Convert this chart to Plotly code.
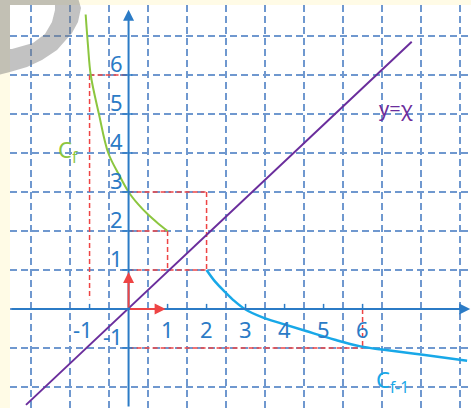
import plotly.graph_objects as go

# ---------------- data ----------------
green_x = [-1.10, -1.04, -0.97, -0.76, -0.52, -0.25, 0.0, 0.25, 0.5, 0.75, 1.0]
green_y = [7.55, 6.75, 6.0, 5.0, 4.0, 3.45, 3.0, 2.68, 2.42, 2.2, 2.0]

blue_x = [2.0, 2.22, 2.47, 2.72, 2.98, 3.42, 3.91, 4.53, 5.29, 5.95, 6.5, 7.5, 8.68]
blue_y = [1.0, 0.70, 0.44, 0.20, 0.0, -0.21, -0.37, -0.56, -0.79, -0.96, -1.04, -1.17, -1.33]

line_x = [-2.63, 7.26]
line_y = [-2.46, 6.85]

x_ticks = [-1, 1, 2, 3, 4, 5, 6]
x_tick_labels = ["-1", "1", "2", "3", "4", "5", "6"]
y_ticks = [-1, 1, 2, 3, 4, 5, 6]
y_tick_labels = ["-1", "1", "2", "3", "4", "5", "6"]

# red dashed projection segments (start point, end point)
red_x0 = [-1, -1, 0, 1, 0, 2, 0, 0, 6]
red_y0 = [6, 6, 2, 2, 1, 3, 3, -1, 0]
red_x1 = [0, -1, 1, 1, 2, 2, 2, 6, 6]
red_y1 = [6, 0.25, 2, 1, 1, 1, 3, -1, -1]

# unit vectors i, j
vec_x = [1, 0]
vec_y = [0, 1]

X_RANGE = [-3.04, 8.78]
Y_RANGE = [-2.54, 7.795]

AXIS_BLUE = "#2b7bc6"
GRID_BLUE = "#6f98cf"
RED = "#ee4444"
GREEN = "#8cc63f"
CYAN = "#18a8e8"
PURPLE = "#6a2d9c"
FONT = "Noto Sans"

fig = go.Figure()

# red dashed segments
rx, ry = [], []
for a, b, c, d in zip(red_x0, red_y0, red_x1, red_y1):
    rx += [a, c, None]
    ry += [b, d, None]
fig.add_trace(go.Scatter(x=rx, y=ry, mode="lines",
                         line=dict(color=RED, width=1.5, dash="5px,3px"),
                         hoverinfo="skip", showlegend=False))

# curves
fig.add_trace(go.Scatter(x=line_x, y=line_y, mode="lines",
                         line=dict(color=PURPLE, width=2), showlegend=False))
fig.add_trace(go.Scatter(x=green_x, y=green_y, mode="lines",
                         line=dict(color=GREEN, width=2, shape="spline", smoothing=1),
                         showlegend=False))
fig.add_trace(go.Scatter(x=blue_x, y=blue_y, mode="lines",
                         line=dict(color=CYAN, width=2.5, shape="spline", smoothing=1),
                         showlegend=False))

annotations = []
# axes with arrows
annotations.append(dict(x=8.76, y=0, ax=X_RANGE[0], ay=0, xref="x", yref="y",
                        axref="x", ayref="y", text="", showarrow=True,
                        arrowhead=2, arrowsize=1.1, arrowwidth=2, arrowcolor=AXIS_BLUE))
annotations.append(dict(x=0, y=7.67, ax=0, ay=Y_RANGE[0], xref="x", yref="y",
                        axref="x", ayref="y", text="", showarrow=True,
                        arrowhead=2, arrowsize=1.1, arrowwidth=2, arrowcolor=AXIS_BLUE))
# red unit vectors
for vx, vy in zip(vec_x, vec_y):
    annotations.append(dict(x=vx * 0.95, y=vy * 0.95, ax=0, ay=0, xref="x", yref="y",
                            axref="x", ayref="y", text="", showarrow=True,
                            arrowhead=2, arrowsize=1.1, arrowwidth=2, arrowcolor=RED))

# tick labels
for k, t in zip(x_ticks, x_tick_labels):
    annotations.append(dict(x=k - (0.17 if k < 0 else 0), y=-0.08, xref="x", yref="y",
                            text=t, showarrow=False, xanchor="center", yanchor="top",
                            font=dict(family=FONT, size=22, color=AXIS_BLUE)))
for k, t in zip(y_ticks, y_tick_labels):
    annotations.append(dict(x=-0.1, y=k - 0.14, xref="x", yref="y",
                            text=t, showarrow=False, xanchor="right", yanchor="bottom",
                            font=dict(family=FONT, size=22, color=AXIS_BLUE)))

# curve labels
annotations.append(dict(x=-1.85, y=4.05, xref="x", yref="y", text="C<sub>f</sub>",
                        showarrow=False, xanchor="left", yanchor="middle",
                        font=dict(family=FONT, size=22, color=GREEN)))
annotations.append(dict(x=6.3, y=-1.85, xref="x", yref="y", text="C<sub>f-1</sub>",
                        showarrow=False, xanchor="left", yanchor="middle",
                        font=dict(family=FONT, size=22, color=CYAN)))
annotations.append(dict(x=6.36, y=5.15, xref="x", yref="y", text="y=χ",
                        showarrow=False, xanchor="left", yanchor="middle",
                        font=dict(family=FONT, size=20, color=PURPLE)))

shapes = []
for k in x_ticks:
    shapes.append(dict(type="line", xref="x", yref="y", x0=k, x1=k, y0=0, y1=0.13,
                       line=dict(color=AXIS_BLUE, width=1.5)))
for k in y_ticks:
    shapes.append(dict(type="line", xref="x", yref="y", x0=-0.16, x1=0.1, y0=k, y1=k,
                       line=dict(color=AXIS_BLUE, width=1.5)))

# gray watermark fragment (decoration) in the top-left corner, pixel -> paper coords
W, H, L, T = 471, 408, 10, 5
def px(xp, yp):
    return (xp - L) / (W - L), 1 - (yp - T) / (H - T)

outer = [(78, -2), (81, 8), (78, 22), (72, 33), (57, 50), (42, 60), (27, 67), (10, 72), (-2, 75), (-2, -2)]
hole = [(10, 49), (12, 49), (33, 43), (45, 34), (52, 22), (55, 10), (55, 5), (10, 5)]
def pth(pts):
    s = ""
    for i, (a, b) in enumerate(pts):
        X, Y = px(a, b)
        s += ("M" if i == 0 else "L") + f"{X:.4f},{Y:.4f} "
    return s + "Z"
shapes.append(dict(type="path", xref="paper", yref="paper",
                   path=pth(outer) + " " + pth(hole),
                   fillcolor="rgba(120,120,120,0.45)", line=dict(width=0), layer="above"))

fig.update_layout(
    width=471, height=408,
    margin=dict(l=L, r=0, t=T, b=0),
    paper_bgcolor="#fffbe6",
    plot_bgcolor="white",
    showlegend=False,
    annotations=annotations,
    shapes=shapes,
    xaxis=dict(range=X_RANGE, tick0=0.5, dtick=1, showgrid=True, gridcolor=GRID_BLUE,
               gridwidth=2, griddash="7px,4px", showticklabels=False, zeroline=False,
               showline=False, ticks=""),
    yaxis=dict(range=Y_RANGE, tick0=0, dtick=1, showgrid=True, gridcolor=GRID_BLUE,
               gridwidth=2, griddash="7px,4px", showticklabels=False, zeroline=False,
               showline=False, ticks=""),
)

fig.write_html("out.html", config={"displayModeBar": False},
               post_script="document.body.style.margin='0';document.body.style.overflow='hidden';")
